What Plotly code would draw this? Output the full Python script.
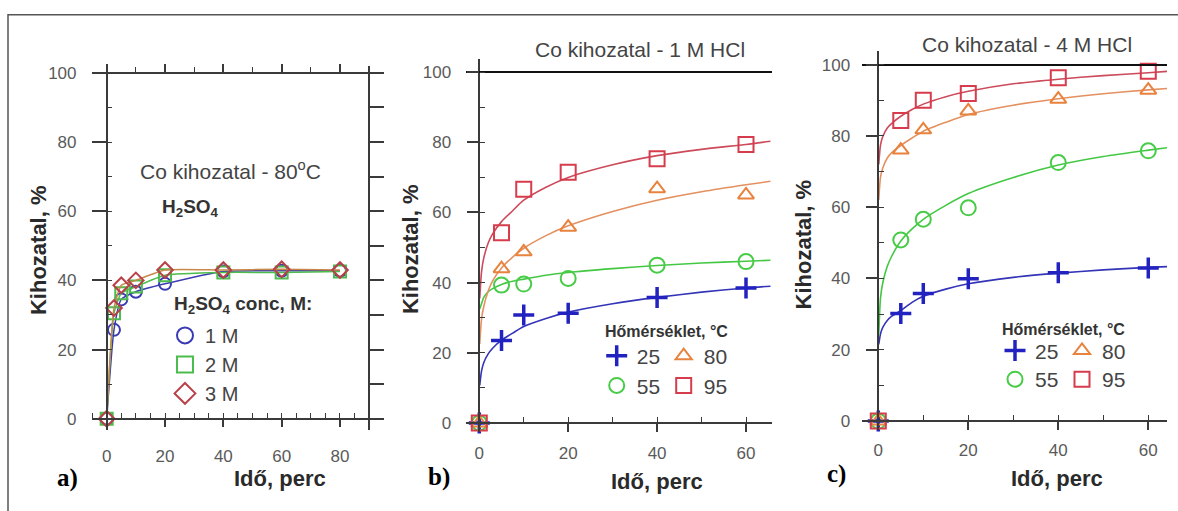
import plotly.graph_objects as go

W, H = 1178, 511

# ---------------- data ----------------
# Panel a: Co recovery at 80 C, H2SO4
time_a = [0, 2.5, 5, 10, 20, 40, 60, 80]
yield_a_1M = [0, 25.7, 34.5, 36.7, 39.0, 42.6, 42.8, 42.8]
yield_a_2M = [0, 30.5, 36.3, 38.2, 41.5, 42.3, 42.3, 42.6]
yield_a_3M = [0, 32.0, 38.6, 40.0, 43.0, 43.0, 43.2, 43.0]
conc_labels = ["1 M", "2 M", "3 M"]

# Panels b, c: measured points
time_bc = [0, 5, 10, 20, 40, 60]
b_25 = [0, 23.5, 30.8, 31.3, 35.8, 38.5]
b_55 = [0, 39.3, 39.6, 41.2, 45.0, 46.0]
b_80 = [0, 44.0, 48.8, 55.8, 66.8, 65.0]
b_95 = [0, 54.2, 66.6, 71.5, 75.3, 79.4]

c_25 = [0, 30.2, 35.8, 39.9, 41.6, 42.9]
c_55 = [0, 50.8, 56.6, 59.8, 72.5, 75.8]
c_80 = [0, 76.0, 81.7, 87.0, 90.3, 92.8]
c_95 = [0, 84.3, 90.0, 91.9, 96.3, 98.1]

# Fitted curves
fit_t = [0.1, 0.5, 1, 2, 3, 5, 7.5, 10, 15, 20, 30, 40, 50, 60, 65.5]
b_fit_25 = [10.7, 14.8, 17.2, 19.7, 21.3, 23.6, 25.6, 27.5, 29.8, 31.6, 34.0, 35.8, 37.3, 38.5, 39.0]
b_fit_55 = [32.5, 34.0, 35.8, 37.4, 38.3, 39.5, 40.4, 41.0, 42.1, 42.9, 44.0, 44.9, 45.6, 46.1, 46.4]
b_fit_80 = [22.5, 29.5, 33.2, 37.6, 40.5, 44.2, 47.3, 49.8, 53.4, 56.2, 60.3, 63.5, 65.9, 67.9, 68.9]
b_fit_95 = [35.5, 43.0, 47.0, 51.3, 53.9, 57.4, 60.5, 63.5, 67.2, 70.0, 73.6, 76.2, 78.0, 79.4, 80.3]

c_fit_25 = [21.5, 24.5, 26.3, 28.2, 29.4, 31.0, 33.3, 35.0, 37.0, 38.5, 40.3, 41.5, 42.4, 43.1, 43.4]
c_fit_55 = [24.0, 34.6, 38.8, 43.4, 46.3, 50.5, 53.9, 56.6, 60.5, 63.8, 68.3, 71.8, 74.2, 76.0, 76.9]
c_fit_80 = [62.0, 68.5, 71.0, 73.8, 75.3, 77.3, 79.4, 81.3, 83.8, 86.0, 88.6, 90.4, 91.8, 92.9, 93.4]
c_fit_95 = [72.0, 77.5, 79.8, 82.2, 83.5, 85.5, 87.4, 88.9, 91.0, 92.5, 94.6, 95.9, 96.9, 97.7, 98.2]

temp_labels = ["25", "55", "80", "95"]

# ---------------- styling ----------------
AX = "#3a3a3a"
FONT = "Arial, Liberation Sans, sans-serif"
TICKFONT = dict(family=FONT, size=17, color="#5a5a5a")

BLUE_A, GREEN_A, RED_A, ORANGE_A = "#3a3ab4", "#4cbc4c", "#b84048", "#c8884a"
BLUE, GREEN, ORANGE, RED = "#2222c0", "#48cc48", "#e8823c", "#d63c4c"
BLUE_L, GREEN_L, ORANGE_L, RED_L = "#3434b8", "#44c844", "#e49060", "#cc4a5a"

P = {
    "a": dict(xdom=(91.7 / W, 383.3 / W), ydom=(1 - 433 / H, 1 - 65 / H),
              xr=(-5.14, 94.85), yr=(-3.23, 101.91)),
    "b": dict(xdom=(466 / W, 772 / W), ydom=(1 - 433 / H, 1 - 58 / H),
              xr=(-2.99, 65.85), yr=(-1.97, 103.66)),
    "c": dict(xdom=(862 / W, 1167 / W), ydom=(1 - 430 / H, 1 - 50 / H),
              xr=(-3.62, 64.16), yr=(-1.66, 103.69)),
}


def to_paper(v, rng, dom):
    return dom[0] + (v - rng[0]) / (rng[1] - rng[0]) * (dom[1] - dom[0])


def x_main(p, minor_dtick, standoff):
    return dict(domain=p["xdom"], range=p["xr"], anchor="free",
                position=to_paper(0, p["yr"], p["ydom"]),
                showline=True, linecolor=AX, linewidth=1.5,
                ticks="outside", ticklen=8, tickwidth=1.5, tickcolor=AX,
                tick0=0, dtick=20,
                minor=dict(tick0=0, dtick=minor_dtick, ticks="inside", ticklen=5,
                           tickwidth=1.2, tickcolor=AX),
                showgrid=False, zeroline=False, tickfont=TICKFONT,
                ticklabelstandoff=standoff, fixedrange=True)


def y_main(p, ticklen, standoff):
    return dict(domain=p["ydom"], range=p["yr"], anchor="free",
                position=to_paper(0, p["xr"], p["xdom"]),
                showline=True, linecolor=AX, linewidth=1.5,
                ticks="outside", ticklen=ticklen, tickwidth=1.5, tickcolor=AX,
                tick0=0, dtick=20,
                minor=dict(tick0=0, dtick=10, ticks="inside", ticklen=5,
                           tickwidth=1.2, tickcolor=AX),
                showgrid=False, zeroline=False, tickfont=TICKFONT,
                ticklabelstandoff=standoff, fixedrange=True)


def x_top(p, over, with_ticks):
    d = dict(domain=p["xdom"], range=p["xr"], anchor="free", overlaying=over, side="top",
             position=to_paper(100, p["yr"], p["ydom"]),
             showline=True, linecolor=AX if with_ticks else "#111", linewidth=1.5,
             showticklabels=False, showgrid=False, zeroline=False, fixedrange=True)
    if with_ticks:
        d.update(ticks="outside", ticklen=8, tickwidth=1.5, tickcolor=AX, tick0=0, dtick=20,
                 minor=dict(tick0=0, dtick=10, ticks="outside", ticklen=5,
                            tickwidth=1.2, tickcolor=AX))
    else:
        d.update(ticks="")
    return d


fig = go.Figure()

# ---------- Panel a ----------
for yv, col, lcol, sym in [(yield_a_1M, BLUE_A, BLUE_A, "circle-open"),
                           (yield_a_2M, GREEN_A, GREEN_A, "square-open"),
                           (yield_a_3M, RED_A, ORANGE_A, "diamond-open")]:
    fig.add_trace(go.Scatter(x=time_a, y=yv, mode="lines+markers", xaxis="x", yaxis="y",
                             line=dict(color=lcol, width=1.5, shape="spline", smoothing=0.5),
                             marker=dict(symbol=sym, size=12, color=col, line=dict(color=col, width=2)),
                             showlegend=False, hoverinfo="skip", cliponaxis=False))
for name, col, sym in zip(conc_labels, [BLUE_A, GREEN_A, RED_A],
                          ["circle-open", "square-open", "diamond-open"]):
    fig.add_trace(go.Scatter(x=[None], y=[None], mode="markers", xaxis="x", yaxis="y",
                             marker=dict(symbol=sym, size=16, color=col, line=dict(color=col, width=2)),
                             name=name, legend="legend", showlegend=True))

# ---------- Panels b, c ----------
markers = {
    "25": dict(symbol="cross-thin-open", size=15, color=BLUE, line=dict(color=BLUE, width=3.5)),
    "55": dict(symbol="circle-open", size=15, color=GREEN, line=dict(color=GREEN, width=2)),
    "80": dict(symbol="triangle-up-open", size=14, color=ORANGE, line=dict(color=ORANGE, width=2)),
    "95": dict(symbol="square-open", size=15, color=RED, line=dict(color=RED, width=2)),
}
line_cols = {"25": BLUE_L, "55": GREEN_L, "80": ORANGE_L, "95": RED_L}

for xa, ya, fits, pts, legs in [
    ("x2", "y2", [b_fit_25, b_fit_55, b_fit_80, b_fit_95], [b_25, b_55, b_80, b_95],
     {"25": "legend2", "80": "legend2", "55": "legend3", "95": "legend3"}),
    ("x3", "y3", [c_fit_25, c_fit_55, c_fit_80, c_fit_95], [c_25, c_55, c_80, c_95],
     {"25": "legend4", "80": "legend4", "55": "legend5", "95": "legend5"}),
]:
    for lab, fy in zip(temp_labels, fits):
        fig.add_trace(go.Scatter(x=fit_t, y=fy, mode="lines", xaxis=xa, yaxis=ya,
                                 line=dict(color=line_cols[lab], width=1.6, shape="spline", smoothing=0.7),
                                 showlegend=False, hoverinfo="skip"))
    for lab, py in zip(temp_labels, pts):
        fig.add_trace(go.Scatter(x=time_bc, y=py, mode="markers", xaxis=xa, yaxis=ya,
                                 marker=markers[lab], name=lab, legend=legs[lab],
                                 cliponaxis=False))

# empty traces to activate decorative overlay axes
for xa, ya in [("x4", "y"), ("x", "y4"), ("x5", "y2"), ("x6", "y3")]:
    fig.add_trace(go.Scatter(x=[], y=[], xaxis=xa, yaxis=ya, showlegend=False, hoverinfo="skip"))

pa, pb, pc = P["a"], P["b"], P["c"]

layout = dict(
    width=W, height=H, autosize=False,
    margin=dict(l=0, r=0, t=0, b=0, pad=0),
    paper_bgcolor="white", plot_bgcolor="rgba(0,0,0,0)",
    font=dict(family=FONT, color="#333"),
    xaxis=x_main(pa, 5, 14), yaxis=y_main(pa, 14, 12),
    xaxis2=x_main(pb, 10, 7), yaxis2=y_main(pb, 12, 12),
    xaxis3=x_main(pc, 10, 6), yaxis3=y_main(pc, 12, 12),
    xaxis4=x_top(pa, "x", True),
    xaxis5=x_top(pb, "x2", False),
    xaxis6=x_top(pc, "x3", False),
    yaxis4=dict(domain=pa["ydom"], range=pa["yr"], anchor="free", overlaying="y", side="right",
                position=to_paper(90, pa["xr"], pa["xdom"]),
                showline=True, linecolor=AX, linewidth=1.5,
                ticks="outside", ticklen=14, tickwidth=1.5, tickcolor=AX, tick0=0, dtick=10,
                showticklabels=False, showgrid=False, zeroline=False, fixedrange=True),
)

leg_base = dict(bgcolor="rgba(0,0,0,0)", borderwidth=0, xanchor="left", yanchor="middle",
                itemclick=False, itemdoubleclick=False, traceorder="normal")
layout["legend"] = dict(leg_base, orientation="v", x=165 / W, y=1 - 366.7 / H,
                        font=dict(family=FONT, size=20, color="#444"))
for key, xpx, ypx in [("legend2", 596.7, 358.3), ("legend3", 596.7, 388.3),
                      ("legend4", 995, 353), ("legend5", 995, 382)]:
    layout[key] = dict(leg_base, orientation="h", x=xpx / W, y=1 - ypx / H, entrywidth=22,
                       font=dict(family=FONT, size=21, color="#444"))

fig.update_layout(**layout)


def ann(text, xpx, ypx, size, bold=False, color="#333", xanchor="center", angle=0, family=FONT):
    fig.add_annotation(text=f"<b>{text}</b>" if bold else text, x=xpx / W, y=1 - ypx / H,
                       xref="paper", yref="paper", showarrow=False, xanchor=xanchor,
                       yanchor="middle", textangle=angle,
                       font=dict(family=family, size=size, color=color))


SERIF = "Times New Roman, Liberation Serif, serif"
# axis titles
for xpx, ypx in [(280, 481.7), (656.7, 485), (1056.7, 482)]:
    ann("Idő, perc", xpx, ypx, 22, bold=True, color="#2a2a2a")
for xpx, ypx in [(38.3, 250.7), (410, 250), (803.3, 245)]:
    ann("Kihozatal, %", xpx, ypx, 22, bold=True, color="#2a2a2a", angle=-90)
# panel letters
for t, xpx, ypx in [("a)", 67, 482), ("b)", 439, 481), ("c)", 836, 478)]:
    ann(t, xpx, ypx, 25, bold=True, color="#000", family=SERIF)
# titles
ann("Co kihozatal - 80<sup>o</sup>C", 230, 170, 21, color="#444")
ann("Co kihozatal - 1 M HCl", 640, 48.3, 21, color="#444")
ann("Co kihozatal - 4 M HCl", 1026.7, 43.3, 21, color="#444")
ann("H<sub>2</sub>SO<sub>4</sub>", 190, 208.3, 19, bold=True, color="#333")
# legend titles
ann("H<sub>2</sub>SO<sub>4</sub> conc, M:", 171.7, 306.7, 19, bold=True, color="#333", xanchor="left")
ann("Hőmérséklet, °C", 603.3, 333.3, 16, bold=True, color="#333", xanchor="left")
ann("Hőmérséklet, °C", 1000, 331, 16, bold=True, color="#333", xanchor="left")

# outer frame (top and left edges visible)
fig.add_shape(type="rect", xref="paper", yref="paper", x0=8 / W, y0=1 - 13 / H, x1=1.05, y1=-0.05,
              line=dict(color="#555", width=1.5), fillcolor="rgba(0,0,0,0)", layer="below")

fig.write_html("out.html")
